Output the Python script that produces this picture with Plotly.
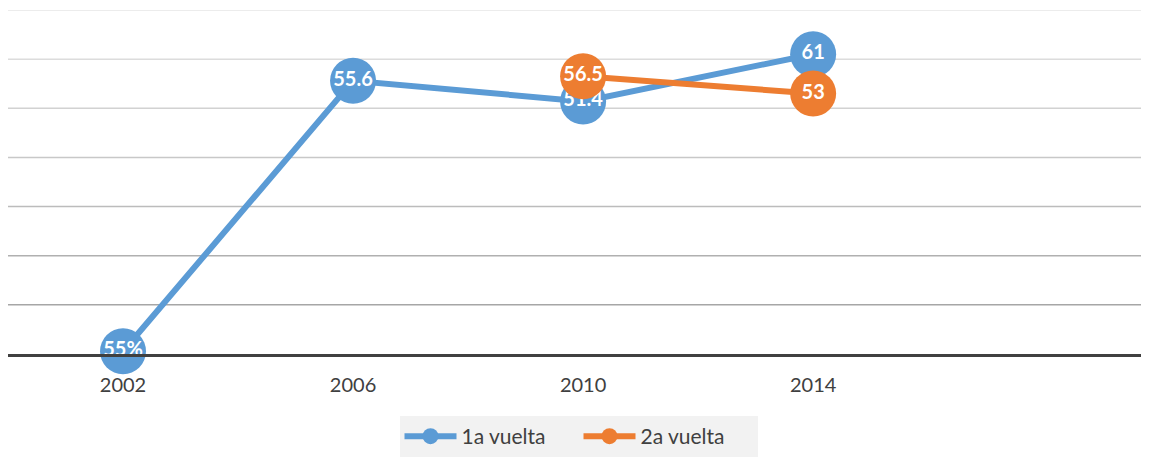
import plotly.graph_objects as go

years = ["2002", "2006", "2010", "2014"]
vuelta1 = [0.55, 55.6, 51.4, 61]
vuelta1_labels = ["55%", "55.6", "51.4", "61"]
vuelta2_years = ["2010", "2014"]
vuelta2 = [56.5, 53]
vuelta2_labels = ["56.5", "53"]
grid_values = [10, 20, 30, 40, 50, 60, 70]
grid_colors = ["#a6a6a6", "#b0b0b0", "#bcbcbc", "#c8c8c8", "#d2d2d2", "#dcdcdc", "#e6e6e6"]

BLUE = "#5B9BD5"
ORANGE = "#ED7D31"
FONT = "Lato"

xi1 = [years.index(y) for y in years]
xi2 = [years.index(y) for y in vuelta2_years]

fig = go.Figure()
fig.add_trace(go.Scatter(
    x=xi1, y=vuelta1, name="1a vuelta", mode="lines+markers+text",
    line=dict(color=BLUE, width=6),
    marker=dict(color=BLUE, size=46),
    text=vuelta1_labels, textposition="middle center",
    textfont=dict(color="white", size=20, family=FONT, weight="bold"),
    cliponaxis=False,
))
fig.add_trace(go.Scatter(
    x=xi2, y=vuelta2, name="2a vuelta", mode="lines+markers+text",
    line=dict(color=ORANGE, width=6),
    marker=dict(color=ORANGE, size=46),
    text=vuelta2_labels, textposition="middle center",
    textfont=dict(color="white", size=20, family=FONT, weight="bold"),
    cliponaxis=False,
))

for v, c in zip(grid_values, grid_colors):
    fig.add_shape(type="line", xref="paper", yref="y", x0=0, x1=1, y0=v, y1=v,
                  line=dict(color=c, width=1.5), layer="below")

fig.update_layout(
    width=1141, height=449,
    margin=dict(l=0, r=0, t=2, b=94),
    paper_bgcolor="white", plot_bgcolor="white",
    font=dict(family=FONT, color="#404040", size=16),
    showlegend=True,
    legend=dict(
        orientation="h", x=0.5, xanchor="center", y=-0.24, yanchor="middle",
        bgcolor="#f2f2f2", font=dict(size=21, color="#404040", family=FONT),
        itemwidth=52, entrywidth=112, entrywidthmode="pixels", traceorder="normal",
    ),
    xaxis=dict(
        range=[-0.5, 4.46], tickmode="array", tickvals=list(range(len(years))),
        ticktext=years, showgrid=False, zeroline=False,
        showline=True, linecolor="#404040", linewidth=3,
        ticks="", ticklabelstandoff=11,
        tickfont=dict(size=20, color="#404040", family=FONT),
        fixedrange=True,
    ),
    yaxis=dict(
        range=[0, 70], showgrid=False, zeroline=False, showticklabels=False,
        showline=False, fixedrange=True,
    ),
)

fig.write_html("out.html")
